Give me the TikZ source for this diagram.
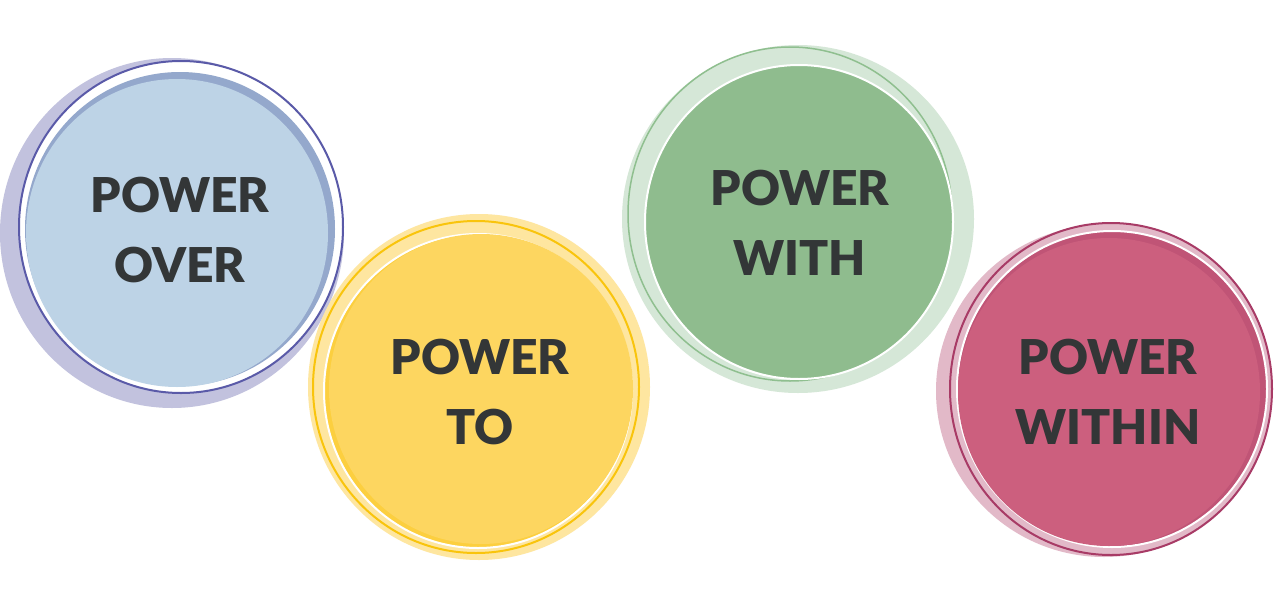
\documentclass[tikz,border=0pt]{standalone}
\usepackage{fontspec}
\setmainfont{Lato}
\newfontfamily\heavyfont{Lato Black}
\definecolor{txt}{HTML}{333637}
\definecolor{blobA}{HTML}{C2C2DE}
\definecolor{ringA}{HTML}{5A5AA8}
\definecolor{bandA}{HTML}{94A8CC}
\definecolor{fillA}{HTML}{BDD3E6}
\definecolor{blobB}{HTML}{FEE6A0}
\definecolor{ringB}{HTML}{F9C40C}
\definecolor{bandB}{HTML}{FCCF3F}
\definecolor{fillB}{HTML}{FDD660}
\definecolor{blobC}{HTML}{D5E7D7}
\definecolor{ringC}{HTML}{8FBF8F}
\definecolor{fillC}{HTML}{8FBC8E}
\definecolor{blobD}{HTML}{E2B9C8}
\definecolor{ringD}{HTML}{A83B66}
\definecolor{bandD}{HTML}{C05476}
\definecolor{fillD}{HTML}{CC5F7E}
\tikzset{
  label/.style={text=txt, align=center, font=\heavyfont\fontsize{48}{70}\selectfont, inner sep=0pt},
  ringline/.style={line width=2pt},
  gapline/.style={draw=white, line width=2pt},
}
\begin{document}
\begin{tikzpicture}[x=1pt,y=-1pt]
\useasboundingbox[fill=white] (0,0) rectangle (1280,600);
% circle A
\fill[blobA] (172,233) ellipse [x radius=172pt, y radius=175pt];
\draw[ringline, draw=ringA, fill=white] (181,227) ellipse [x radius=162pt, y radius=166pt];
\fill[bandA] (180,229) ellipse [x radius=155pt, y radius=157pt];
\fill[fillA] (177,233) ellipse [x radius=151pt, y radius=154pt];
\node[label] (over) at (180,230) {POWER\\OVER};
% circle B
\fill[blobB] (479,387) ellipse [x radius=171pt, y radius=173pt];
\draw[ringline, draw=ringB, fill=blobB] (476,387) ellipse [x radius=163pt, y radius=166pt];
\filldraw[gapline, fill=bandB] (478,391) ellipse [x radius=154pt, y radius=157pt];
\fill[fillB] (481,389) ellipse [x radius=152pt, y radius=155pt];
\node[label] (to) at (480,392) {POWER\\TO};
% circle C
\fill[blobC] (798,219) ellipse [x radius=176pt, y radius=174pt];
\draw[line width=1.5pt, draw=ringC, fill=blobC] (790,214) ellipse [x radius=162pt, y radius=167pt];
\filldraw[gapline, fill=fillC] (799,222) ellipse [x radius=154pt, y radius=157pt];
\node[label] (with) at (800,223) {POWER\\WITH};
% circle D
\fill[blobD] (1104,391) ellipse [x radius=168pt, y radius=166pt];
\draw[ringline, draw=ringD, fill=blobD] (1111,389) ellipse [x radius=161pt, y radius=166pt];
\filldraw[gapline, fill=bandD] (1112,389) ellipse [x radius=155pt, y radius=158pt];
\fill[fillD] (1109,392) ellipse [x radius=151pt, y radius=154pt];
\node[label] (within) at (1108,392) {POWER\\WITHIN};
\end{tikzpicture}
\end{document}
